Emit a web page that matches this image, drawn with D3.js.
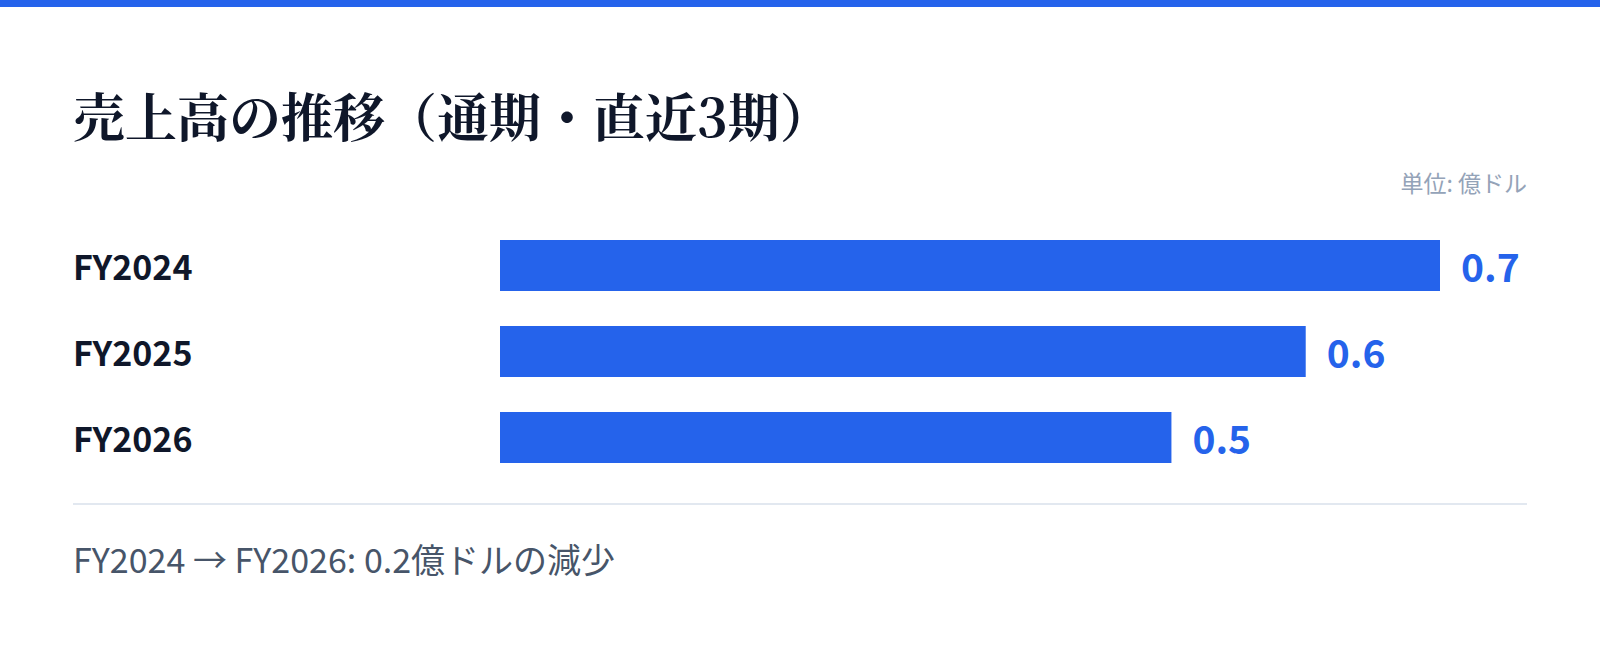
<!DOCTYPE html>
<html>
<head>
<meta charset="utf-8">
<script src="https://cdn.jsdelivr.net/npm/d3@7"></script>
<style>
  body { margin: 0; background: #fff; }
  svg { display: block; }
</style>
</head>
<body>
<svg id="chart"></svg>
<script>
const W = 1600, H = 647;

// data
const categories = ["FY2024", "FY2025", "FY2026"];
const values = [0.7, 0.6, 0.5];
const valueLabels = ["0.7", "0.6", "0.5"];
const titleText = "売上高の推移（通期・直近3期）";
const unitText = "単位: 億ドル";
const footerText = "FY2024 → FY2026: 0.2億ドルの減少";

const svg = d3.select("#chart").attr("width", W).attr("height", H);

const sans = "'Noto Sans CJK JP', 'Noto Sans', sans-serif";
const serif = "'Noto Serif CJK JP', 'DejaVu Serif', serif";
const left = 73, right = 1527;

// top accent strip
svg.append("rect").attr("x", 0).attr("y", 0).attr("width", W).attr("height", 7).attr("fill", "#2563eb");

svg.append("text")
    .attr("x", left).attr("y", 137)
    .attr("font-family", serif).attr("font-weight", 700)
    .attr("font-size", 52).attr("fill", "#0f172a")
    .text(titleText);

svg.append("text")
    .attr("x", right).attr("y", 192)
    .attr("text-anchor", "end")
    .attr("font-family", sans).attr("font-size", 23)
    .attr("fill", "#94a3b8")
    .text(unitText);

const x = d3.scaleLinear().domain([0, 0.7]).range([500, 1440]);
const y = d3.scaleBand().domain(categories).range([240, 463]).paddingInner(0.407).paddingOuter(0);

const rows = svg.append("g").selectAll("g")
    .data(categories)
    .enter()
    .append("g");

rows.append("text")
    .attr("x", left)
    .attr("y", d => y(d) + y.bandwidth() / 2)
    .attr("dy", "0.44em")
    .attr("font-family", sans).attr("font-weight", 700)
    .attr("font-size", 34).attr("fill", "#0f172a")
    .text(d => d);

rows.append("rect")
    .attr("x", x(0))
    .attr("y", d => y(d))
    .attr("width", (d, i) => x(values[i]) - x(0))
    .attr("height", y.bandwidth())
    .attr("fill", "#2563eb");

rows.append("text")
    .attr("x", (d, i) => x(values[i]) + 21)
    .attr("y", d => y(d) + y.bandwidth() / 2)
    .attr("dy", "0.42em")
    .attr("font-family", sans).attr("font-weight", 700)
    .attr("font-size", 39).attr("fill", "#2563eb")
    .text((d, i) => valueLabels[i]);

svg.append("line")
    .attr("x1", left).attr("x2", right)
    .attr("y1", 504).attr("y2", 504)
    .attr("stroke", "#e2e8f0").attr("stroke-width", 2);

svg.append("text")
    .attr("x", left).attr("y", 573)
    .attr("font-family", sans).attr("font-size", 34)
    .attr("fill", "#475569")
    .text(footerText);
</script>
</body>
</html>
